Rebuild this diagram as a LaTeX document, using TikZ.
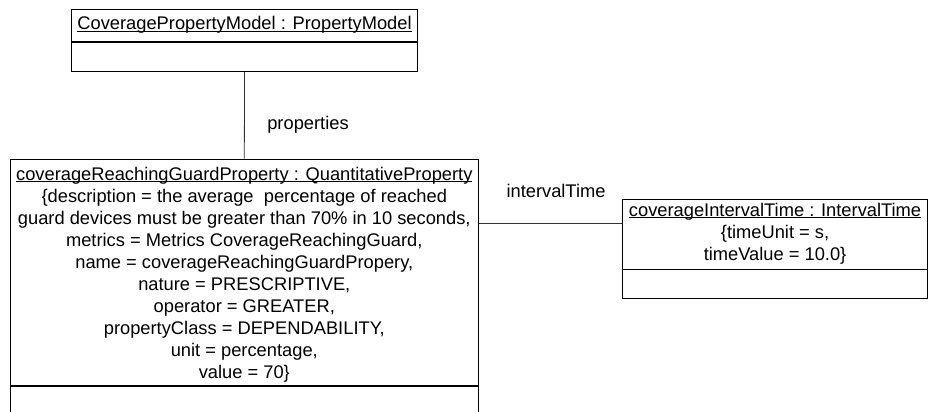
\documentclass[tikz,border=0pt]{standalone}
\usepackage{fontspec}
\setmainfont{Liberation Sans}
\usetikzlibrary{positioning}

% object name, underlined through the descenders
\newcommand{\objname}[1]{\setbox0\hbox{#1}\rlap{\vrule width\wd0 height -1.4pt depth 2.4pt}\box0}

\tikzset{
  objbox/.style={draw, line width=1.1pt, rectangle, inner sep=0pt, anchor=north west},
  objtext/.style={align=center, inner sep=0pt, anchor=base,
    font=\fontsize{18.3}{22}\selectfont},
  link/.style={draw, line width=0.8pt, black!80},
}

\begin{document}
\begin{tikzpicture}[x=1pt, y=-1pt]
\useasboundingbox (0,0) rectangle (929,412);
\clip (0,0) rectangle (929,412);

% property model
\node[objbox, minimum width=346pt, minimum height=62pt] (model) at (71,9) {};
\draw[line width=1.1pt] (model.west |- 0,42) -- (model.east |- 0,42);
\node[objtext] (modeltitle) at (model.north |- 0,30)
  {\objname{CoveragePropertyModel : PropertyModel}};

% quantitative property
\node[objbox, minimum width=468.5pt, minimum height=280pt] (prop) at (9.5,158.5) {};
\draw[line width=1.1pt] (prop.west |- 0,386) -- (prop.east |- 0,386);
\node[objtext] (proptitle) at (prop.north |- 0,180)
  {\objname{coverageReachingGuardProperty : QuantitativeProperty}};
% base of the last line
\node[objtext] (propattr) at (prop.north |- 0,378)
  {\{description = the average\ \ percentage of reached\\
   guard devices must be greater than 70\% in 10 seconds,\\
   metrics = Metrics CoverageReachingGuard,\\
   name = coverageReachingGuardPropery,\\
   nature = PRESCRIPTIVE,\\
   operator = GREATER,\\
   propertyClass = DEPENDABILITY,\\
   unit = percentage,\\
   value = 70\}};

% interval time
\node[objbox, minimum width=305pt, minimum height=98.5pt] (ivt) at (622,199) {};
\draw[line width=1.1pt] (ivt.west |- 0,269.5) -- (ivt.east |- 0,269.5);
\node[objtext] (ivttitle) at (ivt.north |- 0,216)
  {\objname{coverageIntervalTime : IntervalTime}};
\node[objtext] (ivtattr) at (ivt.north |- 0,260)
  {\{timeUnit = s,\\ timeValue = 10.0\}};

% links
\draw[link] (model.south) -- (prop.north);
\path (ivt.north west) ++(0,24) coordinate (ivtlink);
\draw[link] (prop.east |- ivtlink) -- (ivtlink);

\node[objtext] (propslbl) at (308,129) {properties};
\node[objtext] (ivtlbl) at (556,197) {intervalTime};

\end{tikzpicture}
\end{document}
